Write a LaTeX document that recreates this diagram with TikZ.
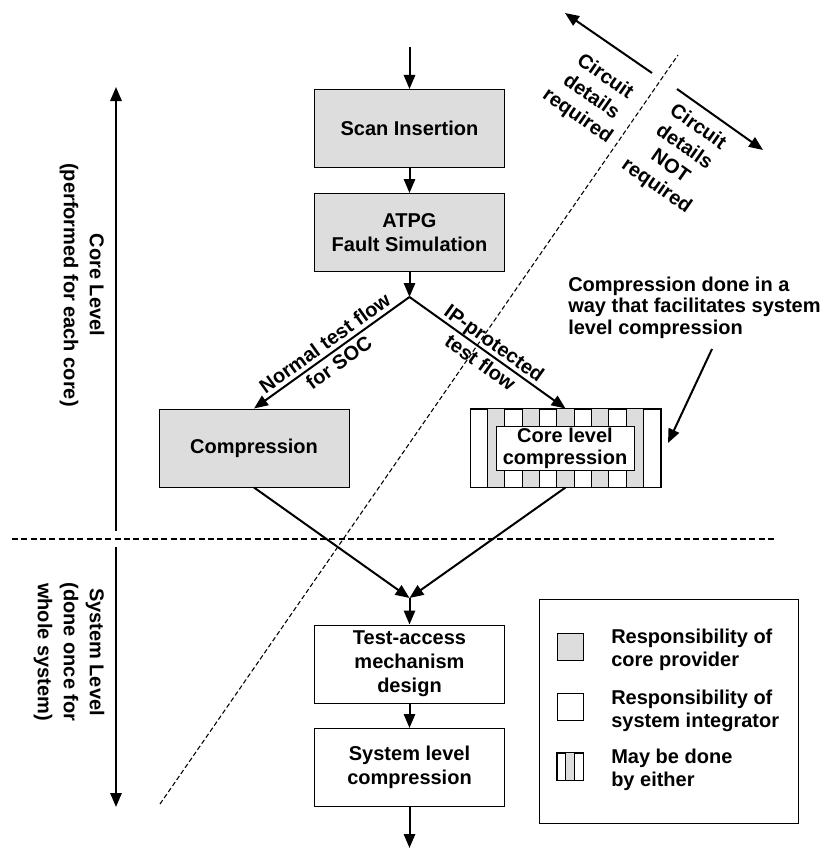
\documentclass[tikz,border=0pt]{standalone}
\usepackage{fontspec}
\setmainfont{Liberation Sans}
\usetikzlibrary{arrows.meta,calc}
\definecolor{boxgray}{RGB}{221,221,221}
\begin{document}
\begin{tikzpicture}[x=0.75pt,y=-0.75pt,
  font=\bfseries\fontsize{15}{18}\selectfont,
  flowbox/.style={draw,line width=0.75pt,minimum width=142.5pt,minimum height=58.5pt,inner sep=0pt,align=center},
  provider/.style={flowbox,fill=boxgray},
  integrator/.style={flowbox,fill=white},
  arr/.style={line width=1.5pt,-{Triangle[length=10.5pt,width=8.5pt]}},
  divider/.style={line width=1.1pt,dash pattern=on 4.5pt off 2.5pt},
  boundary/.style={line width=0.8pt,dash pattern=on 3.5pt off 2pt},
  swatch/.style={draw,line width=0.75pt,minimum width=19.5pt,minimum height=20.25pt,inner sep=0pt},
  legtext/.style={anchor=west,align=left,inner sep=0pt,font=\bfseries\fontsize{15}{17.25}\selectfont}]
\useasboundingbox (0,0) rectangle (821,849);

% core-level flow
\coordinate (in) at (409.5,47);
\node[provider] (scan) at (409.5,128.5) {Scan Insertion};
\node[provider] (atpg) at (409.5,232.5) {ATPG\\Fault Simulation};
\coordinate (split) at (409.5,297);
\node[provider] (comp) at (254,448) {Compression};
\node[flowbox] (ipbox) at (565.5,448) {};
% alternating stripes of the "either" box
\foreach \i in {1,3,5,7,9}{
  \fill[boxgray] ($(ipbox.north west)!{\i/11}!(ipbox.north east)$) rectangle ($(ipbox.south west)!{(\i+1)/11}!(ipbox.south east)$);
}
\foreach \i in {1,...,10}{
  \draw[line width=0.75pt] ($(ipbox.north west)!{\i/11}!(ipbox.north east)$) -- ($(ipbox.south west)!{\i/11}!(ipbox.south east)$);
}
\draw[line width=0.75pt] (ipbox.north west) rectangle (ipbox.south east);
\node[draw,fill=white,line width=0.75pt,minimum width=103.5pt,minimum height=33pt,inner sep=0pt,align=center,
  font=\bfseries\fontsize{15}{16.5}\selectfont] (corecomp) at (565,448) {Core level\\compression};

% system-level flow
\coordinate (merge) at (409.5,598);
\node[integrator] (tam) at (409.5,664) {Test-access\\mechanism\\design};
\node[integrator] (sysc) at (409.5,767.5) {System level\\compression};
\coordinate (out) at (409.5,848);

\draw[arr] (in) -- (scan);
\draw[arr] (scan) -- (atpg);
\draw[arr] (atpg) -- (split);
\draw[arr] (split) -- (comp.north);
\draw[arr] (split) -- (ipbox.north);
\draw[arr] (comp.south) -- (merge);
\draw[arr] (ipbox.south) -- (merge);
\draw[arr] (merge) -- (tam);
\draw[arr] (tam) -- (sysc);
\draw[arr] (sysc) -- (out);

\path (split) -- (comp.north) node[midway,sloped,align=center,inner sep=0pt] (normlab) {Normal test flow\\for SOC};
\path (split) -- (ipbox.north) node[midway,sloped,align=center,inner sep=0pt] (iplab) {IP-protected\\test flow};

% level separator and level arrows
\coordinate (sepL) at (12,539);
\coordinate (sepR) at (776,539);
\draw[divider] (sepL) -- (sepR);
\coordinate (coreTop) at (116,87);
\coordinate (coreBot) at (116,531);
\coordinate (sysTop) at (116,547);
\coordinate (sysBot) at (116,807);
\draw[arr] (coreBot) -- (coreTop);
\draw[arr] (sysTop) -- (sysBot);
\node[rotate=-90,align=center,font=\bfseries\fontsize{15}{19.5}\selectfont] (corelab) at (82,285) {Core Level\\(performed for each core)};
\node[rotate=-90,align=center,font=\bfseries\fontsize{15}{19.5}\selectfont] (syslab) at (69,652) {System Level\\(done once for\\whole system)};

% circuit-detail boundary
\coordinate (bndLow) at (160,804);
\coordinate (bndHigh) at (678,55);
\draw[boundary] (bndLow) -- (bndHigh);
\coordinate (reqFrom) at (652,73);
\coordinate (reqTo) at (565,13);
\coordinate (notFrom) at (677,89);
\coordinate (notTo) at (763,150);
\draw[arr] (reqFrom) -- (reqTo);
\draw[arr] (notFrom) -- (notTo);
\node[rotate=-35,align=center] (reqlab) at (591,97) {Circuit\\details\\required};
\node[rotate=-35,align=center] (notlab) at (677,157) {Circuit\\details\\NOT\\required};

% callout
\node[anchor=west,align=left,inner sep=0pt,font=\bfseries\fontsize{15}{16.2}\selectfont] (note) at (568,307.5) {Compression done in a\\way that facilitates system\\level compression};
\coordinate (noteFrom) at (712,349);
\coordinate (noteTo) at (668,443);
\draw[arr] (noteFrom) -- (noteTo);

% legend
\node[draw,line width=0.75pt,minimum width=194.25pt,minimum height=168pt,inner sep=0pt] (legend) at (668.5,711) {};
\node[swatch,fill=boxgray] (swA) at (570,646.5) {};
\node[swatch,fill=white] (swB) at (570,707) {};
\node[swatch,fill=white] (swC) at (570,766.5) {};
\fill[boxgray] ($(swC.north west)!{1/3}!(swC.north east)$) rectangle ($(swC.south west)!{2/3}!(swC.south east)$);
\draw[line width=0.75pt] ($(swC.north west)!{1/3}!(swC.north east)$) -- ($(swC.south west)!{1/3}!(swC.south east)$);
\draw[line width=0.75pt] ($(swC.north west)!{2/3}!(swC.north east)$) -- ($(swC.south west)!{2/3}!(swC.south east)$);
\draw[line width=0.75pt] (swC.north west) rectangle (swC.south east);
\node[legtext] (ltA) at (611,649.5) {Responsibility of\\core provider};
\node[legtext] (ltB) at (611,710.5) {Responsibility of\\system integrator};
\node[legtext] (ltC) at (611,769.5) {May be done\\by either};
\end{tikzpicture}
\end{document}
